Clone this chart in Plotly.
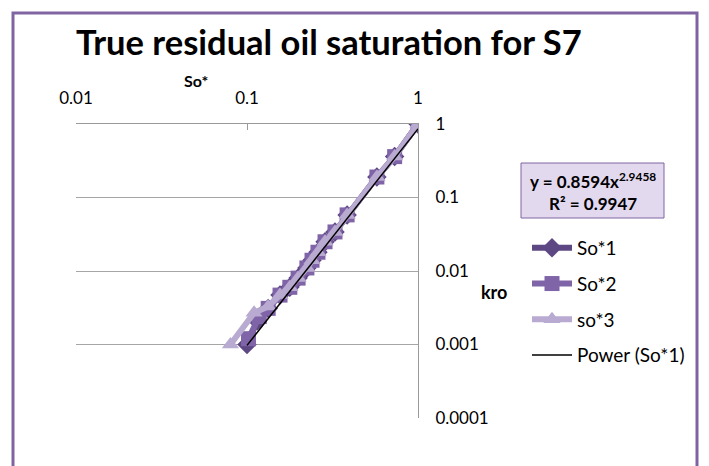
import plotly.graph_objects as go

# ---- data ----
so1_x = [1.0, 0.73, 0.575, 0.385, 0.327, 0.286, 0.26, 0.24, 0.224, 0.199, 0.178, 0.156, 0.133, 0.115, 0.1]
so1_y = [1.0, 0.36, 0.19, 0.058, 0.034, 0.025, 0.018, 0.014, 0.011, 0.008, 0.006, 0.0047, 0.0031, 0.0021, 0.001]
so2_x = [1.0, 0.73, 0.575, 0.385, 0.327, 0.286, 0.26, 0.24, 0.224, 0.199, 0.178, 0.156, 0.133, 0.118, 0.102]
so2_y = [1.0, 0.36, 0.19, 0.058, 0.034, 0.025, 0.018, 0.014, 0.011, 0.008, 0.006, 0.0047, 0.0031, 0.0024, 0.0012]
so3_x = [1.0, 0.73, 0.575, 0.385, 0.327, 0.286, 0.26, 0.24, 0.224, 0.199, 0.178, 0.156, 0.133, 0.11, 0.08]
so3_y = [1.0, 0.36, 0.19, 0.058, 0.034, 0.025, 0.018, 0.014, 0.011, 0.008, 0.006, 0.0047, 0.0033, 0.0027, 0.001]

series_names = ["So*1", "So*2", "so*3"]
trend_name = "Power (So*1)"
trend_a = 0.8594
trend_b = 2.9458
trend_r2 = 0.9947

x_tickvals = [0.01, 0.1, 1]
x_ticktext = ["0.01", "0.1", "1"]
y_tickvals = [0.0001, 0.001, 0.01, 0.1, 1]
y_ticktext = ["0.0001", "0.001", "0.01", "0.1", "1"]

title_text = "True residual oil saturation for S7"
x_title = "So*"
y_title = "kro"

FONT = "Lato, Liberation Sans, Arial, sans-serif"

# ---- figure ----
W, H = 709, 466
L, R, T, B = 76, 291, 124, 48
pw, ph = W - L - R, H - T - B

def px_x(p):
    return (p - L) / pw

def px_y(p):
    return (H - B - p) / ph

fig = go.Figure()

colors = ["#5E4884", "#8064A8", "#B8AAD0"]
symbols = ["diamond", "square", "triangle-up"]
data = [(so1_x, so1_y), (so2_x, so2_y), (so3_x, so3_y)]

for i, ((xs, ys), name) in enumerate(zip(data, series_names)):
    fig.add_trace(go.Scatter(
        x=xs, y=ys, name=name, mode="lines+markers",
        line=dict(color=colors[i], width=6),
        marker=dict(symbol=symbols[i], size=15, color=colors[i]),
        legendgroup=name,
    ))

# trendline from fitted power law over So*1 range
tx0, tx1 = min(so1_x), max(so1_x)
n = 40
tx = [tx0 * (tx1 / tx0) ** (k / (n - 1)) for k in range(n)]
ty = [trend_a * v ** trend_b for v in tx]
fig.add_trace(go.Scatter(
    x=tx, y=ty, name=trend_name, mode="lines",
    line=dict(color="black", width=1.5), legendgroup=trend_name,
))

fig.update_layout(
    width=W, height=H,
    margin=dict(l=L, r=R, t=T, b=B, autoexpand=False),
    paper_bgcolor="white", plot_bgcolor="white",
    font=dict(family=FONT, size=17, color="black"),
    title=dict(text="<b>" + title_text + "</b>", x=76 / W, xanchor="left",
               y=1 - 43 / H, yanchor="middle", yref="container",
               font=dict(family=FONT, size=34.5, color="black")),
    showlegend=True,
    legend=dict(x=px_x(527), y=px_y(229), xanchor="left", yanchor="top",
                font=dict(family=FONT, size=19, color="black"),
                tracegroupgap=8, bgcolor="rgba(0,0,0,0)", itemwidth=40),
    xaxis=dict(type="log", range=[-2, 0], side="top",
               tickvals=x_tickvals, ticktext=x_ticktext,
               showgrid=False, zeroline=False,
               showline=True, linecolor="#9A9A9A", linewidth=1,
               ticks="inside", ticklen=6, tickcolor="#9A9A9A",
               ticklabelstandoff=12,
               tickfont=dict(family=FONT, size=17, color="black")),
    yaxis=dict(type="log", range=[-4, 0], side="right",
               tickvals=y_tickvals, ticktext=y_ticktext,
               showgrid=True, gridcolor="#A6A6A6", gridwidth=1,
               zeroline=False, showline=True, linecolor="#9A9A9A", linewidth=1,
               ticks="", ticklabelstandoff=13,
               tickfont=dict(family=FONT, size=17, color="black")),
)

# axis titles
fig.add_annotation(text="<b>" + x_title + "</b>", xref="paper", yref="paper",
                   x=px_x(196), y=px_y(81), xanchor="center", yanchor="middle",
                   showarrow=False, font=dict(family=FONT, size=16, color="black"))
fig.add_annotation(text="<b>" + y_title + "</b>", xref="paper", yref="paper",
                   x=px_x(494), y=px_y(292), xanchor="center", yanchor="middle",
                   showarrow=False, font=dict(family=FONT, size=18, color="black"))

# equation box
fig.add_shape(type="rect", xref="paper", yref="paper",
              x0=px_x(521), x1=px_x(664), y0=px_y(218), y1=px_y(163),
              line=dict(color="#8064A2", width=1), fillcolor="#E2D9EF")
fig.add_annotation(
    text="<b>y = %.4fx<sup>%.4f</sup><br>R² = %.4f</b>" % (trend_a, trend_b, trend_r2),
    xref="paper", yref="paper", x=px_x(592.5), y=px_y(191),
    xanchor="center", yanchor="middle", showarrow=False,
    align="center", font=dict(family=FONT, size=17, color="black"))

# outer chart border
fig.add_shape(type="rect", xref="paper", yref="paper",
              x0=px_x(13), x1=px_x(697), y0=px_y(470), y1=px_y(13),
              line=dict(color="#8064A2", width=3), fillcolor="rgba(0,0,0,0)")

fig.write_html("out.html", config={"displayModeBar": False},
               post_script="document.body.style.margin='0';")
